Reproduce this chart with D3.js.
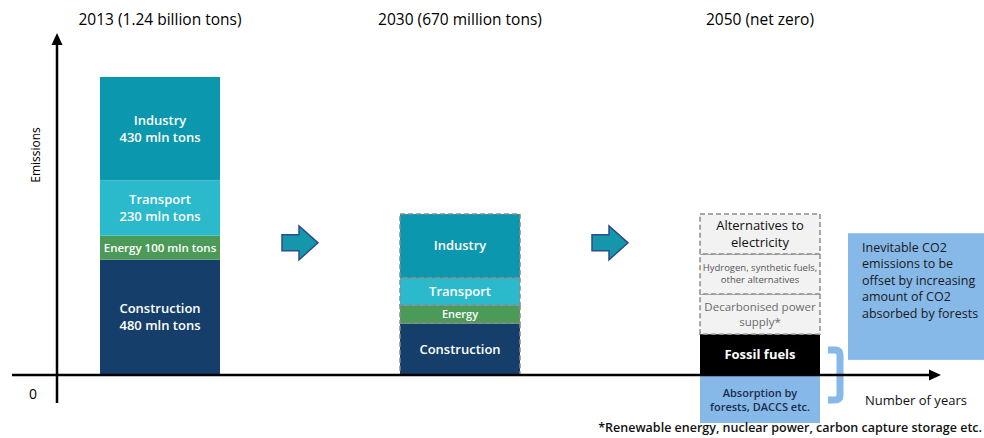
<!DOCTYPE html>
<html>
<head>
<meta charset="utf-8">
<script src="https://cdn.jsdelivr.net/npm/d3@7"></script>
<style>
  body { margin: 0; background: #fff; }
  text { font-family: "Open Sans", sans-serif; }
</style>
</head>
<body>
<div id="chart"></div>
<script>
// Years and their headings
const years = ["2013", "2030", "2050"];
const headings = ["2013 (1.24 billion tons)", "2030 (670 million tons)", "2050 (net zero)"];

// Sectors, stacked bottom to top (mln tons)
const sectors = ["Construction", "Energy", "Transport", "Industry"];
const values2013 = [480, 100, 230, 430];
const values2030 = [215, 75, 115, 265];
const labels2013 = [["Construction", "480 mln tons"], ["Energy 100 mln tons"], ["Transport", "230 mln tons"], ["Industry", "430 mln tons"]];
const labels2030 = [["Construction"], ["Energy"], ["Transport"], ["Industry"]];

// 2050 breakdown, bottom to top
const parts2050 = ["Fossil fuels", "Decarbonised power supply*", "Hydrogen, synthetic fuels, other alternatives", "Alternatives to electricity"];
const values2050 = [170, 167, 167, 166];
const labels2050 = [["Fossil fuels"], ["Decarbonised power", "supply*"], ["Hydrogen, synthetic fuels,", "other alternatives"], ["Alternatives to", "electricity"]];
const absorption2050 = -200;
const absorptionLabel = ["Absorption by", "forests, DACCS etc."];

const offsetNote = ["Inevitable CO2", "emissions to be", "offset by increasing", "amount of CO2", "absorbed by forests"];
const footnote = "*Renewable energy, nuclear power, carbon capture storage etc.";

const sectorColors = {
    "Construction": "#153f6a",
    "Energy": "#4b9a58",
    "Transport": "#2bb9cc",
    "Industry": "#0b97ae"
};
const partColors = ["#000000", "#f2f2f2", "#f2f2f2", "#f2f2f2"];
const partText = [
    { color: "#fff", size: 13, weight: 700 },
    { color: "#6b6b6b", size: 11.5, weight: 400 },
    { color: "#555", size: 9.5, weight: 400 },
    { color: "#111", size: 13, weight: 400 }
];

const width = 984, height = 438;

const svg = d3.select("#chart").append("svg")
    .attr("width", width)
    .attr("height", height);

// Scales
const xScale = d3.scaleBand()
    .domain(years)
    .range([100, 820])
    .paddingInner(0.6)
    .paddingOuter(0);
const bw = xScale.bandwidth();

const yScale = d3.scaleLinear()
    .domain([0, 1240])
    .range([375, 77]);

// stack helper -> [{start, end, i}]
function stack(values) {
    const ends = d3.cumsum(values);
    return values.map((v, i) => ({ i, start: ends[i] - v, end: ends[i] }));
}

// multi-line centred text
function addLabel(g, lines, cx, cy, opts) {
    const lh = opts.lineHeight || opts.size * 1.3;
    const t = g.append("text")
        .attr("text-anchor", "middle")
        .attr("fill", opts.color)
        .attr("font-size", opts.size)
        .attr("font-weight", opts.weight);
    lines.forEach((line, k) => {
        t.append("tspan")
            .attr("x", cx)
            .attr("y", cy + (k - (lines.length - 1) / 2) * lh)
            .attr("dy", "0.35em")
            .text(line);
    });
}

// 2013 bar (solid)
const g2013 = svg.append("g");
stack(values2013).forEach(d => {
    g2013.append("rect")
        .attr("x", xScale("2013"))
        .attr("y", yScale(d.end))
        .attr("width", bw)
        .attr("height", yScale(d.start) - yScale(d.end))
        .attr("fill", sectorColors[sectors[d.i]]);
    addLabel(g2013, labels2013[d.i], xScale("2013") + bw / 2, (yScale(d.start) + yScale(d.end)) / 2,
        { color: "#fff", size: d.i === 1 ? 11.5 : 13, weight: 600, lineHeight: 17 });
});

// 2030 bar (dashed outline)
const g2030 = svg.append("g");
stack(values2030).forEach(d => {
    g2030.append("rect")
        .attr("x", xScale("2030"))
        .attr("y", yScale(d.end))
        .attr("width", bw)
        .attr("height", yScale(d.start) - yScale(d.end))
        .attr("fill", sectorColors[sectors[d.i]])
        .attr("stroke", "#8a8a8a")
        .attr("stroke-width", 1.5)
        .attr("stroke-dasharray", "5,3");
    addLabel(g2030, labels2030[d.i], xScale("2030") + bw / 2, (yScale(d.start) + yScale(d.end)) / 2,
        { color: "#fff", size: d.i === 1 ? 11 : 13, weight: 600 });
});

// 2050 bar
const g2050 = svg.append("g");
stack(values2050).forEach(d => {
    g2050.append("rect")
        .attr("x", xScale("2050"))
        .attr("y", yScale(d.end))
        .attr("width", bw)
        .attr("height", yScale(d.start) - yScale(d.end))
        .attr("fill", partColors[d.i])
        .attr("stroke", d.i === 0 ? "none" : "#8a8a8a")
        .attr("stroke-width", 1.5)
        .attr("stroke-dasharray", "5,3");
    addLabel(g2050, labels2050[d.i], xScale("2050") + bw / 2, (yScale(d.start) + yScale(d.end)) / 2,
        Object.assign({ lineHeight: partText[d.i].size * 1.3 }, partText[d.i]));
});

// absorption below the axis
g2050.append("rect")
    .attr("x", xScale("2050"))
    .attr("y", yScale(0))
    .attr("width", bw)
    .attr("height", yScale(absorption2050) - yScale(0))
    .attr("fill", "#86b8e8");
addLabel(g2050, absorptionLabel, xScale("2050") + bw / 2, (yScale(0) + yScale(absorption2050)) / 2 + 1,
    { color: "#1c2d4f", size: 11, weight: 600, lineHeight: 14 });

// Headings
svg.selectAll(".heading")
    .data(years)
    .join("text")
    .attr("class", "heading")
    .attr("x", d => xScale(d) + bw / 2)
    .attr("y", 20)
    .attr("dy", "0.35em")
    .attr("text-anchor", "middle")
    .attr("font-size", 15.5)
    .attr("fill", "#000")
    .text((d, i) => headings[i]);

// Block arrows between the bars
const arrowPath = "M0,-8 H17 V-17 L36,0 L17,17 V8 H0 Z";
years.slice(0, 2).forEach((yr, i) => {
    svg.append("path")
        .attr("d", arrowPath)
        .attr("transform", `translate(${xScale(yr) + bw + 62 + i * 10},${yScale(550)})`)
        .attr("fill", "#1597ab")
        .attr("stroke", "#2d4b8e")
        .attr("stroke-width", 1.5)
        .attr("stroke-linejoin", "miter");
});

// Bracket joining fossil fuels and absorption
const bx = xScale("2050") + bw + 20;
svg.append("path")
    .attr("d", `M${bx - 12},${yScale(0) - 25} H${bx - 5} Q${bx},${yScale(0) - 25} ${bx},${yScale(0) - 20} V${yScale(0) + 20} Q${bx},${yScale(0) + 25} ${bx - 5},${yScale(0) + 25} H${bx - 12}`)
    .attr("fill", "none")
    .attr("stroke", "#86b8e8")
    .attr("stroke-width", 7);

// Offset note box
const noteX = xScale("2050") + bw + 28;
svg.append("rect")
    .attr("x", noteX)
    .attr("y", yScale(590))
    .attr("width", width - noteX + 10)
    .attr("height", yScale(63) - yScale(590))
    .attr("fill", "#86b8e8");
svg.append("text")
    .attr("font-size", 12.5)
    .attr("font-weight", 500)
    .attr("fill", "#1a1a1a")
    .selectAll("tspan")
    .data(offsetNote)
    .join("tspan")
    .attr("x", noteX + 14)
    .attr("y", (d, i) => yScale(590) + 14 + i * 16.6)
    .attr("dy", "0.35em")
    .text(d => d);

// Axes
const axisX = 57;
svg.append("line")
    .attr("x1", axisX).attr("x2", axisX)
    .attr("y1", yScale(0) + 28).attr("y2", 44)
    .attr("stroke", "#000").attr("stroke-width", 2.5);
svg.append("path")
    .attr("d", `M${axisX},33 L${axisX + 5.5},45 L${axisX - 5.5},45 Z`)
    .attr("fill", "#000");

svg.append("line")
    .attr("x1", 12).attr("x2", 930)
    .attr("y1", yScale(0)).attr("y2", yScale(0))
    .attr("stroke", "#000").attr("stroke-width", 2.5);
svg.append("path")
    .attr("d", `M941,${yScale(0)} L929,${yScale(0) - 5.5} L929,${yScale(0) + 5.5} Z`)
    .attr("fill", "#000");

svg.append("text")
    .attr("x", 33)
    .attr("y", yScale(0) + 19)
    .attr("dy", "0.35em")
    .attr("text-anchor", "middle")
    .attr("font-size", 14)
    .text("0");

svg.append("text")
    .attr("transform", `translate(36,155) rotate(-90)`)
    .attr("dy", "0.35em")
    .attr("text-anchor", "middle")
    .attr("font-size", 12)
    .text("Emissions");

svg.append("text")
    .attr("x", 916)
    .attr("y", 400)
    .attr("dy", "0.35em")
    .attr("text-anchor", "middle")
    .attr("font-size", 13)
    .attr("fill", "#111")
    .text("Number of years");

svg.append("text")
    .attr("x", 982)
    .attr("y", 428)
    .attr("dy", "0.35em")
    .attr("text-anchor", "end")
    .attr("font-size", 12.5)
    .attr("font-weight", 600)
    .attr("fill", "#111")
    .text(footnote);
</script>
</body>
</html>
